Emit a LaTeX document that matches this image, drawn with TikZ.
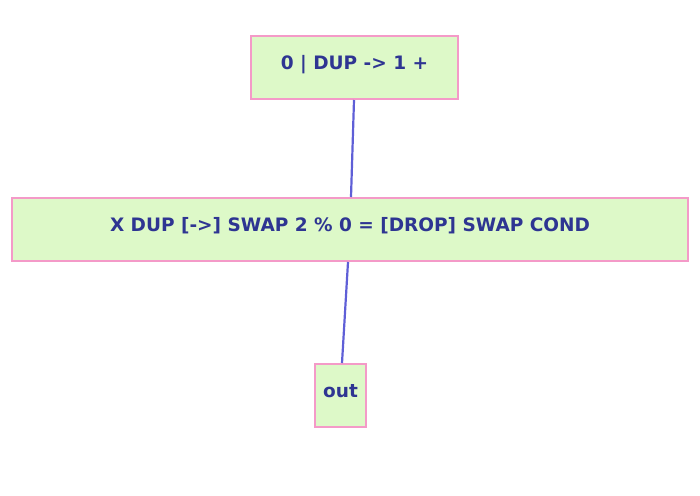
\documentclass[tikz,border=0pt]{standalone}
\usepackage{fontspec}
\setmainfont{DejaVu Sans}
\definecolor{boxfill}{HTML}{DDF9C8}
\definecolor{boxline}{HTML}{F49AC8}
\definecolor{txt}{HTML}{2E3592}
\definecolor{edge}{HTML}{5F5FD7}
\begin{document}
\begin{tikzpicture}[x=1pt,y=-1pt,
  box/.style={draw=boxline,fill=boxfill,line width=2pt,inner sep=0pt,
    text=txt,font=\fontsize{18.5}{22}\selectfont\bfseries},
  conn/.style={draw=edge,line width=2.2pt}]
\useasboundingbox (0,0) rectangle (700,495);
\node[box,minimum width=207pt,minimum height=63pt] (top) at (354.5,67.5) {\raisebox{10pt}{0 | DUP -> 1 +}};
\node[box,minimum width=676pt,minimum height=63pt] (mid) at (350,229.5) {\raisebox{10pt}{X DUP [->] SWAP 2 \% 0 = [DROP] SWAP COND}};
\node[box,minimum width=51pt,minimum height=63pt] (out) at (340.5,395.5) {\raisebox{10pt}{out}};
\draw[conn] ([xshift=-0.5pt]top.south) -- ([xshift=1pt]mid.north);
\draw[conn] ([xshift=-2pt]mid.south) -- ([xshift=1.5pt]out.north);
\end{tikzpicture}
\end{document}
